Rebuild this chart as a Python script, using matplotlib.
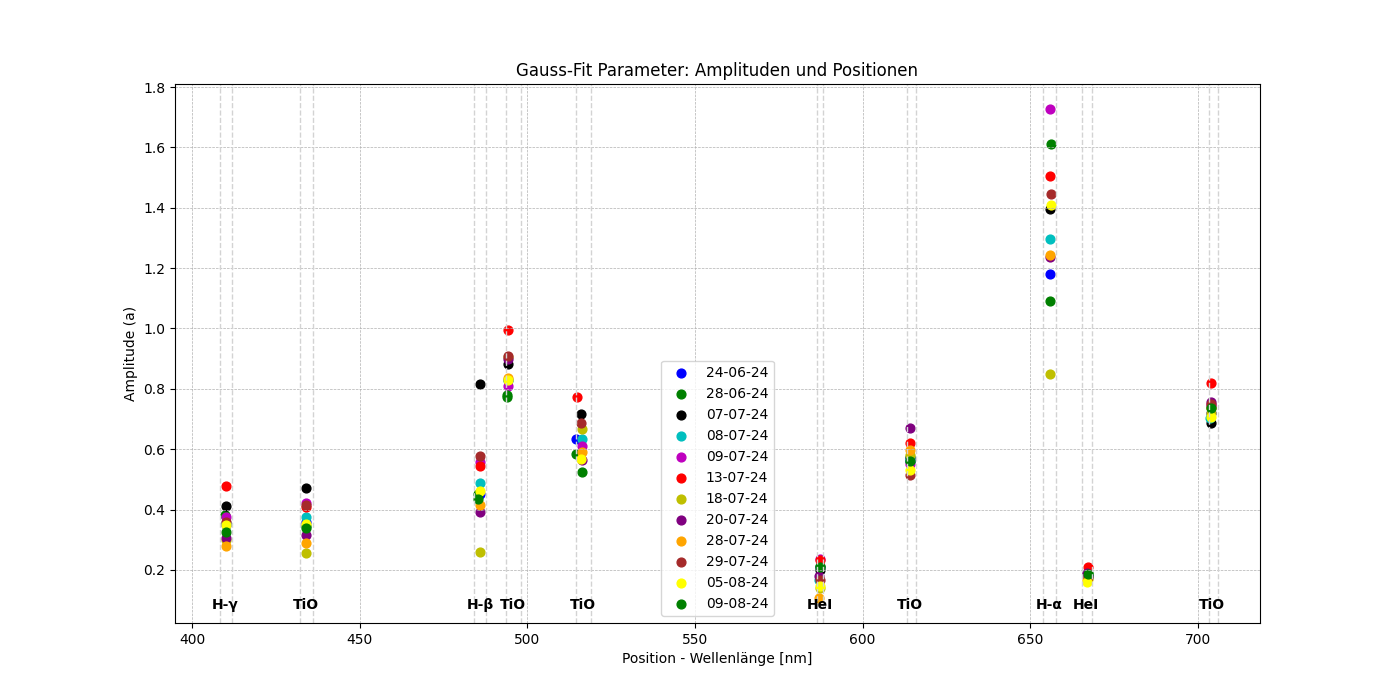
import numpy as np
import matplotlib
matplotlib.use("Agg")
import matplotlib.pyplot as plt

# ---- data -------------------------------------------------------------------
dates = ["24-06-24", "28-06-24", "07-07-24", "08-07-24", "09-07-24", "13-07-24",
         "18-07-24", "20-07-24", "28-07-24", "29-07-24", "05-08-24", "09-08-24"]
colors = ["b", "g", "k", "c", "m", "r", "y", "purple", "orange", "brown", "yellow", "green"]

# line order: H-g, TiO, H-b, TiO, TiO, HeI, TiO, H-a, HeI, TiO
positions = [
    [410.0, 434.0, 486.0, 494.2, 514.5, 587.2, 614.1, 656.0, 667.1, 703.9],
    [409.7, 434.0, 485.3, 494.0, 514.6, 587.4, 614.1, 656.0, 667.2, 704.0],
    [410.0, 434.1, 486.0, 494.3, 516.0, 587.2, 614.1, 655.9, 667.1, 703.8],
    [410.2, 434.0, 486.0, 494.1, 516.3, 587.0, 614.0, 656.0, 667.1, 703.7],
    [410.1, 434.0, 486.0, 494.1, 516.3, 587.2, 614.1, 656.0, 667.0, 704.0],
    [410.0, 434.0, 486.0, 494.1, 514.7, 587.3, 614.1, 656.0, 667.2, 703.9],
    [410.0, 433.9, 486.0, 494.2, 516.3, 587.2, 614.1, 656.0, 667.1, 703.9],
    [410.0, 433.9, 486.0, 494.1, 516.3, 587.0, 614.0, 656.0, 667.0, 704.0],
    [410.0, 434.0, 486.0, 494.1, 516.3, 587.1, 614.0, 656.0, 667.0, 703.8],
    [410.0, 434.1, 486.0, 494.1, 516.0, 587.2, 614.1, 656.2, 667.1, 704.0],
    [410.0, 434.0, 486.0, 494.2, 516.0, 587.2, 614.1, 656.1, 667.0, 703.9],
    [410.2, 434.1, 485.4, 494.0, 516.3, 587.3, 614.0, 656.3, 667.2, 704.0],
]
amplitudes = [
    [0.350, 0.360, 0.450, 0.830, 0.635, 0.210, 0.570, 1.180, 0.180, 0.720],
    [0.382, 0.345, 0.452, 0.773, 0.585, 0.213, 0.573, 1.091, 0.189, 0.740],
    [0.413, 0.470, 0.817, 0.882, 0.717, 0.200, 0.560, 1.397, 0.180, 0.686],
    [0.356, 0.375, 0.489, 0.830, 0.633, 0.165, 0.560, 1.295, 0.175, 0.703],
    [0.376, 0.420, 0.559, 0.810, 0.612, 0.235, 0.551, 1.726, 0.185, 0.745],
    [0.478, 0.410, 0.545, 0.995, 0.772, 0.233, 0.620, 1.504, 0.209, 0.818],
    [0.300, 0.255, 0.260, 0.905, 0.668, 0.140, 0.580, 0.848, 0.170, 0.720],
    [0.306, 0.316, 0.393, 0.900, 0.565, 0.180, 0.669, 1.236, 0.190, 0.757],
    [0.280, 0.288, 0.415, 0.837, 0.590, 0.106, 0.597, 1.242, 0.165, 0.736],
    [0.360, 0.415, 0.578, 0.910, 0.686, 0.167, 0.515, 1.444, 0.175, 0.750],
    [0.349, 0.352, 0.463, 0.830, 0.567, 0.145, 0.531, 1.409, 0.161, 0.706],
    [0.324, 0.340, 0.434, 0.780, 0.526, 0.210, 0.560, 1.611, 0.185, 0.735],
]

# fit windows (nm) and their labels
window_lo = [408.2, 432.2, 484.0, 493.7, 514.4, 586.3, 613.2, 653.8, 665.4, 703.4]
window_hi = [411.9, 436.0, 487.8, 498.0, 519.0, 588.3, 615.8, 657.8, 668.4, 706.0]
label_x = [409.9, 434.0, 486.0, 495.6, 516.5, 587.3, 614.2, 655.7, 666.7, 704.2]
label_txt = ["H-γ", "TiO", "H-β", "TiO", "TiO", "HeI", "TiO", "H-α", "HeI", "TiO"]

# ---- figure -----------------------------------------------------------------
fig, ax = plt.subplots(figsize=(14, 7), dpi=100)

for d, c, xs, ys in zip(dates, colors, positions, amplitudes):
    ax.scatter(xs, ys, color=c, s=40, label=d)

for lo, hi in zip(window_lo, window_hi):
    ax.axvline(lo, color="lightgray", ls="--", lw=1)
    ax.axvline(hi, color="lightgray", ls="--", lw=1)

for x, t in zip(label_x, label_txt):
    ax.text(x, 0.085, t, ha="center", va="center", fontweight="bold", fontsize=10)

ax.set_xlim(394.9, 718.5)
ax.set_ylim(0.024, 1.81)
ax.set_title("Gauss-Fit Parameter: Amplituden und Positionen")
ax.set_xlabel("Position - Wellenlänge [nm]")
ax.set_ylabel("Amplitude (a)")
ax.grid(True, ls="--", lw=0.5)
ax.legend(loc="lower center")

fig.savefig("out.png", dpi=100)
